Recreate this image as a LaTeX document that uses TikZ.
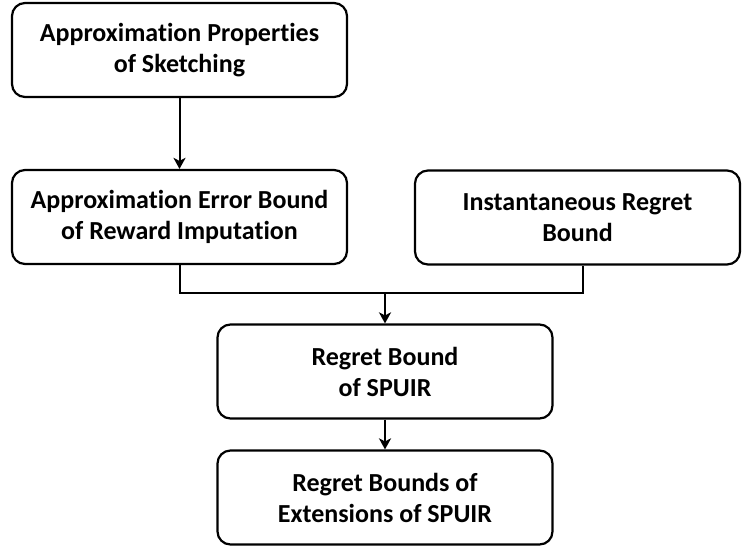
\documentclass[tikz,border=0pt]{standalone}
\usepackage{fontspec}
\setmainfont{Carlito}[Ligatures=NoCommon]
\usetikzlibrary{arrows.meta}
\begin{document}
\begin{tikzpicture}[x=1pt,y=-1pt]
\tikzset{
  box/.style={draw, line width=2.2pt, rounded corners=13pt, minimum width=335pt, minimum height=94pt,
    align=center, font=\fontsize{26}{31}\selectfont\bfseries, inner sep=0pt},
  conn/.style={line width=2pt, -{Stealth[length=11pt,width=12pt,inset=3pt]}},
  plain/.style={line width=2pt}
}
\useasboundingbox (0,0) rectangle (743,550);
\node[box] (b1) at (179.5,50) {Approximation Properties\\of Sketching};
\node[box] (b2) at (179.5,217) {Approximation Error Bound\\of Reward Imputation};
\node[box, minimum width=325pt] (b3) at (577.5,217.5) {Instantaneous Regret\\Bound};
\node[box] (b4) at (385,371.5) {Regret Bound\\of SPUIR};
\node[box] (b5) at (385,497.5) {Regret Bounds of\\Extensions of SPUIR};
\coordinate (m) at (385,293);
\draw[conn] (b1) -- (b2);
\draw[plain] (b2.south) |- (m) -| ([xshift=5.5pt]b3.south);
\draw[conn] (m) -- (b4);
\draw[conn] (b4) -- (b5);
\end{tikzpicture}
\end{document}
